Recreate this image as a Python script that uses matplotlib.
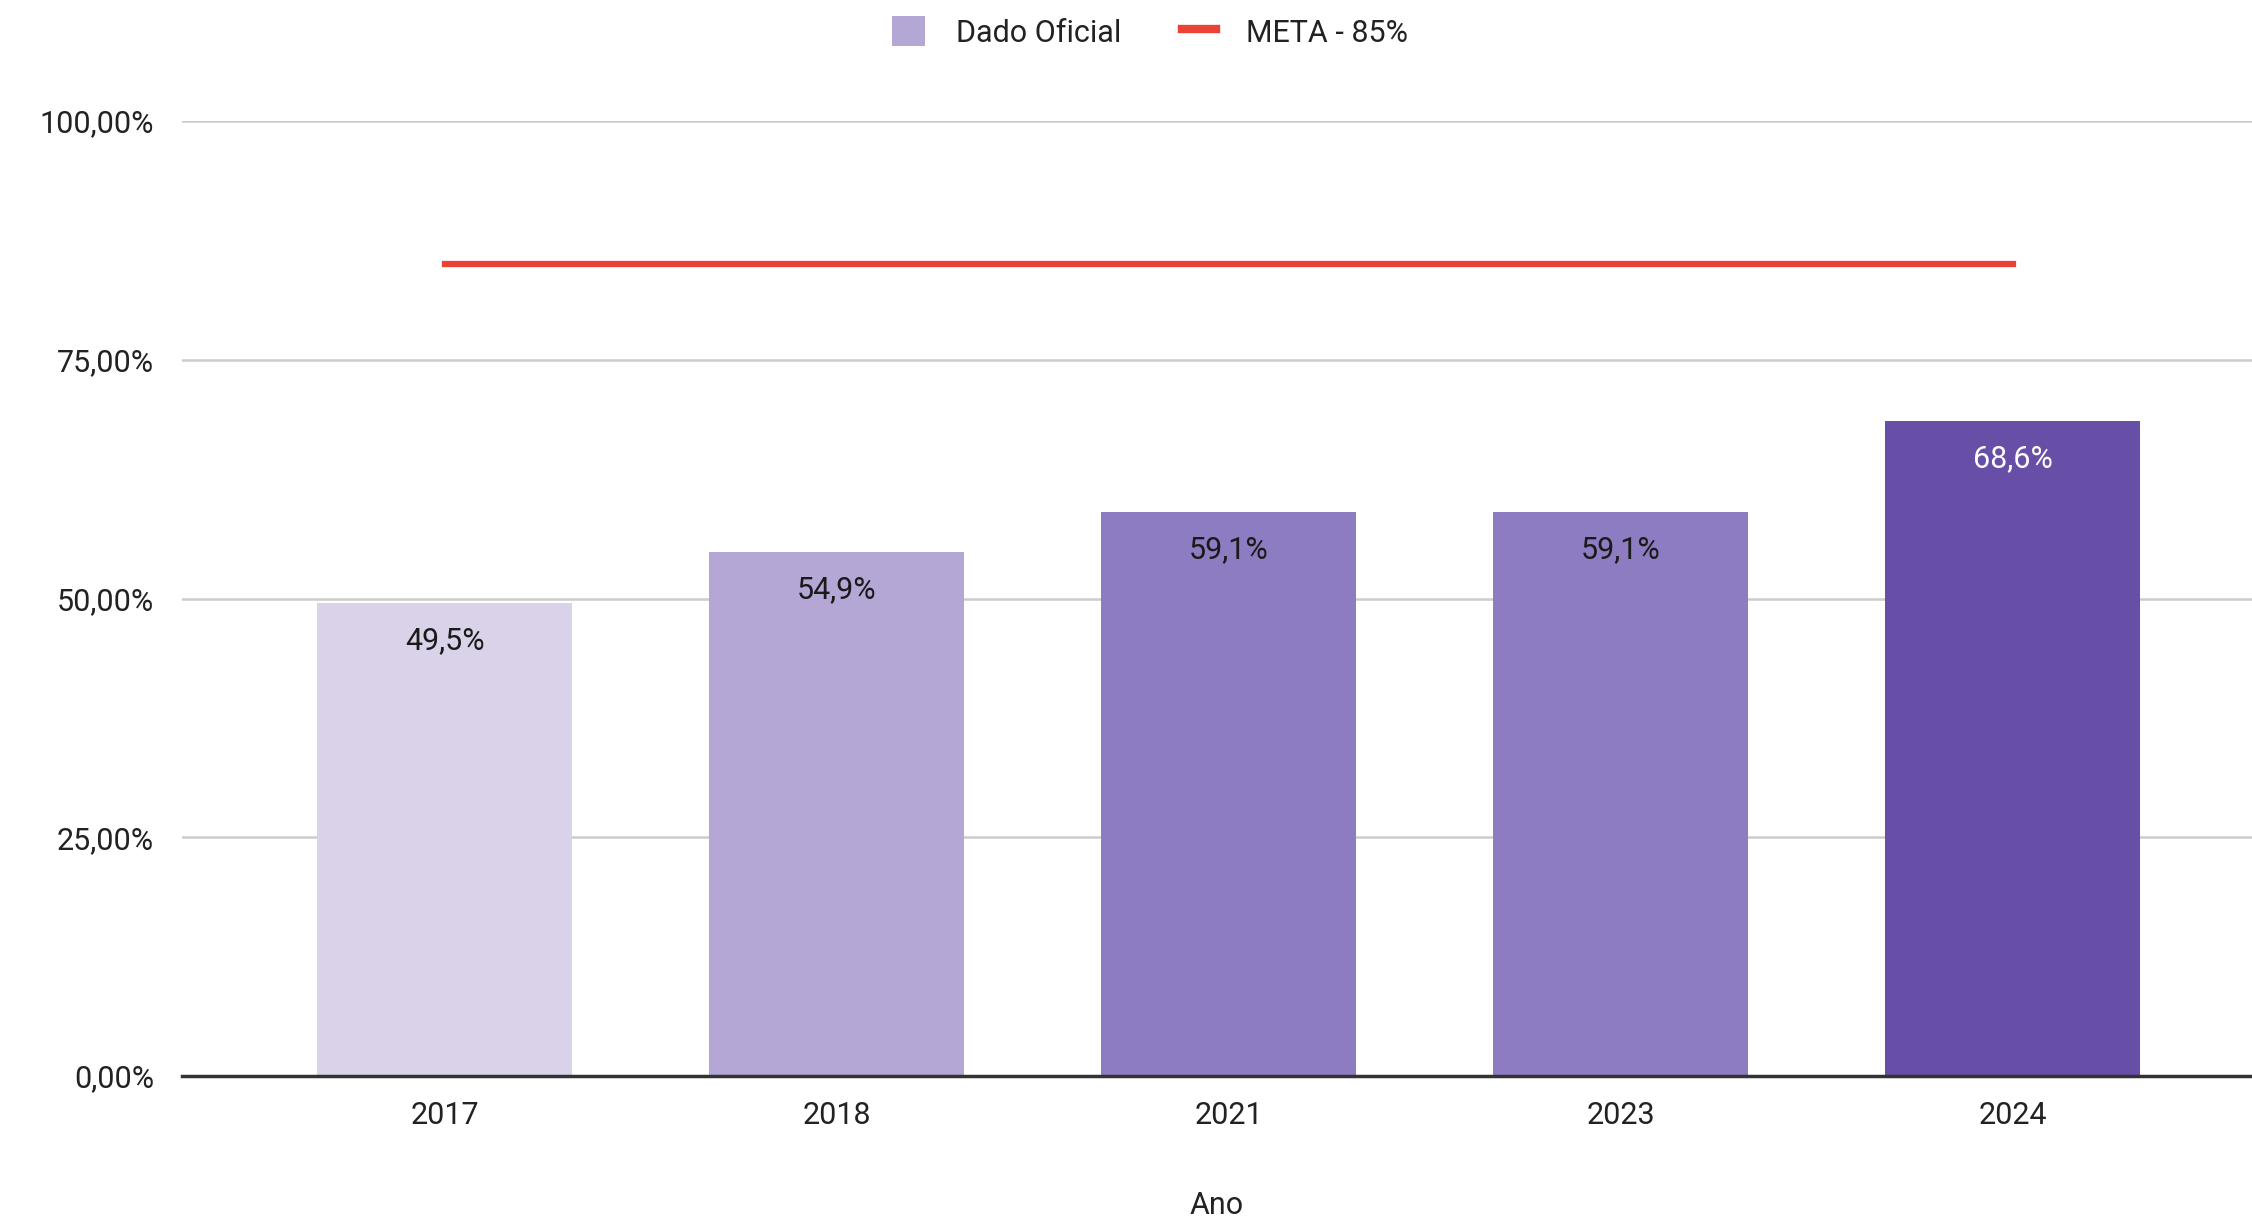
import matplotlib.pyplot as plt
from matplotlib.lines import Line2D
from matplotlib.patches import Patch

# data
anos = ["2017", "2018", "2021", "2023", "2024"]
valores = [49.5, 54.9, 59.1, 59.1, 68.6]
rotulos = ["49,5%", "54,9%", "59,1%", "59,1%", "68,6%"]
meta = 85
cores = ["#d9d2e9", "#b4a7d6", "#8e7cc3", "#8e7cc3", "#674ea7"]
cor_rotulo = ["#1a1a1a", "#1a1a1a", "#1a1a1a", "#1a1a1a", "#ffffff"]
yticks = [0, 25, 50, 75, 100]
ytick_labels = ["0,00%", "25,00%", "50,00%", "75,00%", "100,00%"]

plt.rcParams['font.family'] = ['Roboto', 'DejaVu Sans']
fs = 22

fig = plt.figure(figsize=(22.52, 12.19), dpi=100)
ax = fig.add_axes([0.0808, 0.1173, 0.9192, 0.7834])

x = list(range(len(anos)))
bars = ax.bar(x, valores, width=0.65, color=cores, zorder=2)

for i, b in enumerate(bars):
    ax.annotate(rotulos[i], (b.get_x() + b.get_width() / 2, b.get_height()),
                xytext=(0, -27), textcoords="offset points",
                ha="center", va="center", fontsize=fs, color=cor_rotulo[i], zorder=3)

# linha da meta
ax.plot([x[0], x[-1]], [meta, meta], color="#ea4335", linewidth=4.5, zorder=3)

ax.set_xlim(-0.67, 4.61)
ax.set_ylim(0, 100)
ax.set_xticks(x)
ax.set_xticklabels(anos, fontsize=fs, color="#222222")
ax.set_yticks(yticks)
ax.set_yticklabels(ytick_labels, fontsize=fs, color="#222222")
ax.tick_params(axis="both", length=0)
ax.tick_params(axis="x", pad=18)
ax.tick_params(axis="y", pad=20)

ax.grid(axis="y", color="#cccccc", linewidth=1.8, zorder=0)
ax.set_axisbelow(True)
for s in ["top", "right", "left"]:
    ax.spines[s].set_visible(False)
ax.spines["bottom"].set_color("#333333")
ax.spines["bottom"].set_linewidth(2.5)
ax.spines["bottom"].set_zorder(4)

ax.set_xlabel("Ano", fontsize=fs, color="#222222", labelpad=44)

handles = [Patch(facecolor="#b4a7d6", edgecolor="none"),
           Line2D([0], [0], color="#ea4335", linewidth=6)]
fig.legend(handles, ["Dado Oficial", "META - 85%"], loc="center",
           bbox_to_anchor=(1150 / 2252, 1 - 32 / 1219), ncol=2, frameon=False,
           fontsize=fs, handlelength=1.1, handleheight=1.1, columnspacing=2.0,
           handletextpad=1.0, labelcolor="#222222")

fig.savefig("out.png", dpi=100)
